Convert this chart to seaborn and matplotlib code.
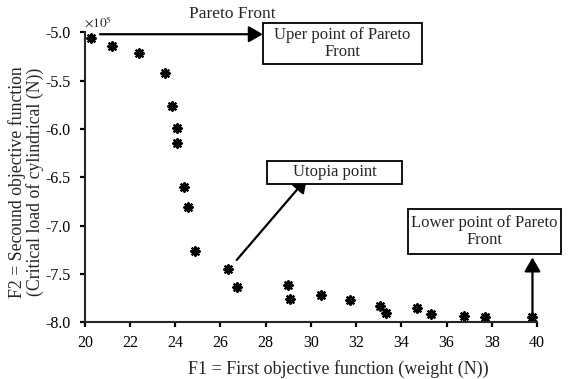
import matplotlib
matplotlib.use("Agg")
import matplotlib.pyplot as plt
import matplotlib.ticker as mticker
from matplotlib.patches import Rectangle
import seaborn as sns
import pandas as pd

# ---- data ----
weight_N = [20.26, 21.22, 22.40, 23.56, 23.86, 24.08, 24.09, 24.38, 24.57, 24.88,
            26.34, 26.75, 28.98, 29.08, 30.45, 31.73, 33.05, 33.34, 34.70, 35.32,
            36.79, 37.71, 39.80]
critical_load = [-5.06, -5.14, -5.21, -5.42, -5.76, -5.99, -6.15, -6.60, -6.81, -7.26,
                 -7.45, -7.63, -7.61, -7.76, -7.72, -7.77, -7.83, -7.90, -7.85, -7.91,
                 -7.93, -7.94, -7.95]
critical_load = [v * 1e5 for v in critical_load]

x_ticks = [20, 22, 24, 26, 28, 30, 32, 34, 36, 38, 40]

df = pd.DataFrame({"F1": weight_N, "F2": critical_load})

sns.set_style("ticks")
plt.rcParams["font.family"] = ["Liberation Serif", "DejaVu Serif"]
plt.rcParams["mathtext.fontset"] = "stix"
plt.rcParams["axes.unicode_minus"] = False

W, H = 568, 379
fig = plt.figure(figsize=(W / 100, H / 100), dpi=100)
ax = fig.add_axes([84.8 / W, 1 - 322.3 / H, (537.0 - 84.8) / W, (322.3 - 32.3) / H])

sns.scatterplot(data=df, x="F1", y="F2", ax=ax, marker=(8, 2, 0), s=36,
                color="black", edgecolor="black", linewidth=1.7, clip_on=False,
                legend=False)

ax.set_xlim(20, 40)
ax.set_ylim(-8e5, -5e5)
ax.set_xticks(x_ticks)
ax.yaxis.set_major_locator(mticker.MultipleLocator(0.5e5))
ax.yaxis.set_major_formatter(mticker.FuncFormatter(lambda v, p: f"{v / 1e5:.1f}"))

for s in ["top", "right"]:
    ax.spines[s].set_visible(False)
for s in ["left", "bottom"]:
    ax.spines[s].set_linewidth(1.5)
ax.tick_params(axis="both", direction="out", length=3.6, width=1.6,
               labelsize=11.5, colors="black")
ax.tick_params(axis="y", pad=6.5)
ax.tick_params(axis="x", pad=5.5)

ax.set_xlabel("F1 = First objective function (weight (N))", fontsize=13)
ax.set_ylabel("F2 = Secound objective function\n(Critical load of cylindrical (N))",
              fontsize=12.8, linespacing=1.0)
ax.xaxis.set_label_coords(0.561, -0.13)
ax.yaxis.set_label_coords(-0.09, 0.485)

fig.text(84 / W, 1 - 31 / H, r"$\times10^{5}$", ha="left", va="bottom", fontsize=9.5)

arrow = dict(arrowstyle="-|>,head_length=0.6,head_width=0.35", color="black",
             lw=1.6, mutation_scale=14, shrinkA=0, shrinkB=0)
ax.annotate("", xy=(27.87, -5.02e5), xytext=(20.67, -5.02e5), arrowprops=arrow,
            annotation_clip=False)
ax.annotate("", xy=(29.82, -6.51e5), xytext=(26.72, -7.355e5), arrowprops=arrow,
            annotation_clip=False)
ax.annotate("", xy=(39.8, -7.33e5), xytext=(39.8, -7.90e5), arrowprops=arrow,
            annotation_clip=False)

fig.text(232 / W, 1 - 14 / H, "Pareto Front", ha="center", va="center", fontsize=12.5)

def box(x0, y0, x1, y1, text):
    fig.patches.append(Rectangle((x0 / W, 1 - y1 / H), (x1 - x0) / W, (y1 - y0) / H,
                                 transform=fig.transFigure, facecolor="white",
                                 edgecolor="black", lw=1.3))
    fig.text((x0 + x1) / 2 / W, 1 - (y0 + y1) / 2 / H, text, ha="center", va="center",
             fontsize=12, linespacing=1.1)

box(263, 23, 422, 64, "Uper point of Pareto\nFront")
box(266.7, 160.7, 402.3, 184.3, "Utopia point")
box(408.3, 209.3, 561, 254, "Lower point of Pareto\nFront")

fig.savefig("out.png", dpi=100)
